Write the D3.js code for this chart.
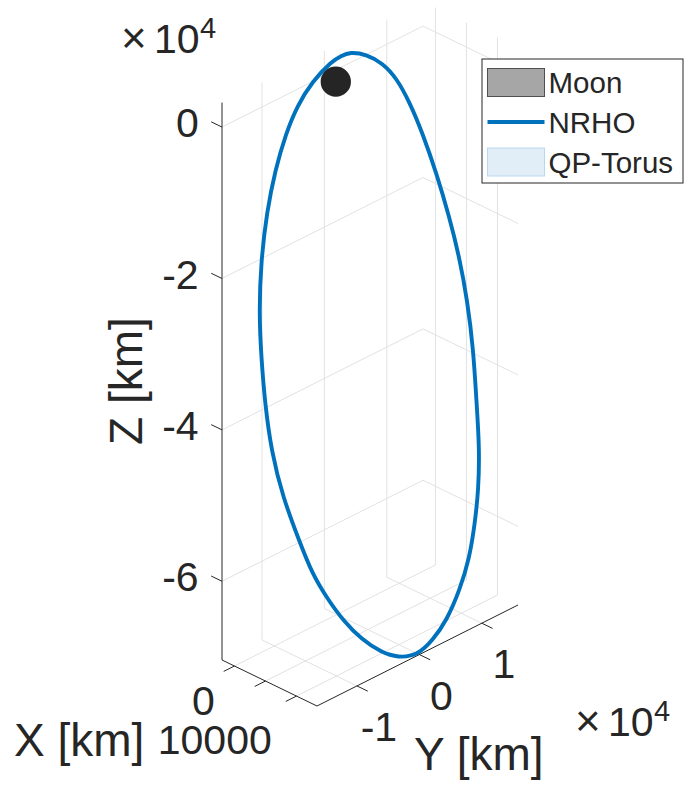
<!DOCTYPE html>
<html>
<head>
<meta charset="utf-8">
<script src="https://cdn.jsdelivr.net/npm/d3@7"></script>
<style>
  html, body { margin: 0; padding: 0; background: #ffffff; }
  svg text { font-family: "Liberation Sans", Arial, Helvetica, sans-serif; fill: #262626; }
</style>
</head>
<body>
<svg id="chart" width="690" height="788"></svg>
<script>
// Axis limits (km)
const xLimits = [-2000, 13300];
const yLimits = [-16400, 15800];
const zLimits = [-70400, 3240];

// Ticks and their labels (labels shown in units of 10^4 km on Y and Z)
const xTicks = [0, 5000, 10000];
const xTickLabels = ["0", "", "10000"];
const yTicks = [-10000, 0, 10000];
const yTickLabels = ["-1", "0", "1"];
const zTicks = [0, -20000, -40000, -60000];
const zTickLabels = ["0", "-2", "-4", "-6"];

// NRHO trajectory samples in the Moon-centred rotating frame (km)
const orbitX = [680, 680, 400, 490, 710, 910, 1280, 1920, 2810, 3790,
                4720, 5740, 6910, 8390, 9430, 10360, 11220, 11900, 12490, 12670,
                13000,
                12670, 12490, 11900, 11220, 10360, 9430, 8390, 6910, 5740, 4720,
                3790, 2810, 1920, 1280, 910, 710, 490, 400, 680];
const orbitY = [0, 1430, 4300, 6880, 8880, 10760, 12470, 14060, 15240, 15870,
                16220, 16180, 15490, 14510, 13330, 11770, 10120, 7860, 5200, 2790,
                0,
                -2790, -5200, -7860, -10120, -11770, -13330, -14510, -15490, -16180, -16220,
                -15870, -15240, -14060, -12470, -10760, -8880, -6880, -4300, -1430];
const orbitZ = [3650, 3590, 2000, -220, -2950, -6810, -11480, -17170, -23110, -28290,
                -33750, -39920, -45780, -51000, -55760, -59370, -62570, -65710, -68330, -69900,
                -70650,
                -69900, -68330, -65710, -62570, -59370, -55760, -51000, -45780, -39920, -33750,
                -28290, -23110, -17170, -11480, -6810, -2950, -220, 2000, 3590];

// Moon (km)
const moonCenter = [0, 0, 0];
const moonRadius = 2000;

const legendLabels = ["Moon", "NRHO", "QP-Torus"];

// ---- view: orthographic projection of the axes box ----
const origin = [222, 660];   // screen position of (xmin, ymin, zmin)
const ex = [95, 46];         // screen span of the full X range
const ey = [201, -101];      // screen span of the full Y range
const zHeight = 557.45;      // screen height of the full Z range

const xs = d3.scaleLinear().domain(xLimits).range([0, 1]);
const ys = d3.scaleLinear().domain(yLimits).range([0, 1]);
const zs = d3.scaleLinear().domain(zLimits).range([0, 1]);

function proj(x, y, z) {
  const a = xs(x), b = ys(y), c = zs(z);
  return [origin[0] + a * ex[0] + b * ey[0],
          origin[1] + a * ex[1] + b * ey[1] - c * zHeight];
}
function unit(v) { const l = Math.hypot(v[0], v[1]); return [v[0] / l, v[1] / l]; }

const svg = d3.select("#chart");
const line = d3.line();
const [x0, x1] = xLimits, [y0, y1] = yLimits, [z0, z1] = zLimits;

// ---- grid on the back walls and floor ----
const gridSegs = [];
yTicks.forEach(y => {
  gridSegs.push([[x0, y, z0], [x0, y, z1]]);
  gridSegs.push([[x0, y, z0], [x1, y, z0]]);
});
xTicks.forEach(x => {
  gridSegs.push([[x, y1, z0], [x, y1, z1]]);
  gridSegs.push([[x, y0, z0], [x, y1, z0]]);
});
zTicks.forEach(z => {
  gridSegs.push([[x0, y0, z], [x0, y1, z]]);
  gridSegs.push([[x0, y1, z], [x1, y1, z]]);
});
svg.append("g").selectAll("path").data(gridSegs).join("path")
  .attr("d", s => line(s.map(p => proj(...p))))
  .attr("fill", "none").attr("stroke", "#e2e2e2").attr("stroke-width", 1);

// ---- axis lines ----
const axisColor = "#262626";
const axes = svg.append("g").attr("stroke", axisColor).attr("fill", "none").attr("stroke-width", 1);
axes.append("path").attr("d", line([proj(x0, y0, z0), proj(x0, y0, z1)]));
axes.append("path").attr("d", line([proj(x0, y0, z0), proj(x1, y0, z0)]));
axes.append("path").attr("d", line([proj(x1, y0, z0), proj(x1, y1, z0)]));

// ---- ticks ----
const tickLen = 12;
const ux = unit(ex), uy = unit(ey);
const tickFont = 41;

// Z ticks point along -X
zTicks.forEach((z, i) => {
  const p = proj(x0, y0, z);
  const q = [p[0] - ux[0] * tickLen, p[1] - ux[1] * tickLen];
  axes.append("path").attr("d", line([p, q]));
  svg.append("text").attr("x", q[0] - 12.5).attr("y", p[1] - 4.5 + 0.358 * tickFont)
    .attr("text-anchor", "end").attr("font-size", tickFont).text(zTickLabels[i]);
});
// X ticks point along -Y; labels hang below and to the left of the tick ends
xTicks.forEach((x, i) => {
  const p = proj(x, y0, z0);
  const q = [p[0] - uy[0] * tickLen, p[1] - uy[1] * tickLen];
  axes.append("path").attr("d", line([p, q]));
  if (xTickLabels[i]) {
    svg.append("text").attr("x", q[0] - 9 - 2.5 * i).attr("y", q[1] + 44 + 4.5 * i)
      .attr("text-anchor", "end").attr("font-size", tickFont).text(xTickLabels[i]);
  }
});
// Y ticks point along +X
yTicks.forEach((y, i) => {
  const p = proj(x1, y, z0);
  const q = [p[0] + ux[0] * tickLen, p[1] + ux[1] * tickLen];
  axes.append("path").attr("d", line([p, q]));
  svg.append("text").attr("x", p[0] + 22).attr("y", p[1] + 40.5 + 0.358 * tickFont)
    .attr("text-anchor", "middle").attr("font-size", tickFont).text(yTickLabels[i]);
});

// ---- NRHO trajectory ----
const orbitPts = orbitX.map((x, i) => proj(x, orbitY[i], orbitZ[i]));
svg.append("path")
  .attr("d", d3.line().curve(d3.curveBasisClosed)(orbitPts))
  .attr("fill", "none").attr("stroke", "#0072BD").attr("stroke-width", 3.9)
  .attr("stroke-linejoin", "round");

// ---- Moon ----
const mc = proj(...moonCenter);
const mr = zHeight * moonRadius / (z1 - z0);
svg.append("circle").attr("cx", mc[0] - 1).attr("cy", mc[1]).attr("r", mr)
  .attr("fill", "#252525");

// ---- exponent labels (×10^4) ----
function exponent(x, y) {
  svg.append("text").attr("x", x).attr("y", y).attr("font-size", 44).text("\u00d7");
  svg.append("text").attr("x", x + 33).attr("y", y).attr("font-size", tickFont).text("10");
  svg.append("text").attr("x", x + 79).attr("y", y - 15).attr("font-size", 29).text("4");
}
exponent(121, 53);
exponent(575, 736);

// ---- axis labels ----
const labelFont = 46;
svg.append("text").attr("transform", "translate(142,381) rotate(-90)")
  .attr("text-anchor", "middle").attr("font-size", labelFont).text("Z [km]");
svg.append("text").attr("x", 14).attr("y", 756).attr("font-size", labelFont).text("X [km]");
svg.append("text").attr("x", 414).attr("y", 770).attr("font-size", labelFont).text("Y [km]");

// ---- legend ----
const legendFont = 29.5;
const lg = svg.append("g");
lg.append("rect").attr("x", 482).attr("y", 59).attr("width", 201).attr("height", 124)
  .attr("fill", "#ffffff").attr("stroke", axisColor).attr("stroke-width", 1);
const rowY = [82.5, 122, 162];
lg.append("rect").attr("x", 487.5).attr("y", 68.5).attr("width", 57).attr("height", 28)
  .attr("fill", "#a6a6a6").attr("stroke", "#505050").attr("stroke-width", 1);
lg.append("path").attr("d", line([[487.5, rowY[1]], [544.5, rowY[1]]]))
  .attr("stroke", "#0072BD").attr("stroke-width", 3.9);
lg.append("rect").attr("x", 487.5).attr("y", 148).attr("width", 57).attr("height", 28)
  .attr("fill", "#e1eef8").attr("stroke", "#b9d8ef").attr("stroke-width", 1);
legendLabels.forEach((t, i) => {
  lg.append("text").attr("x", 548.5).attr("y", rowY[i] + 0.358 * legendFont)
    .attr("font-size", legendFont).text(t);
});
</script>
</body>
</html>
